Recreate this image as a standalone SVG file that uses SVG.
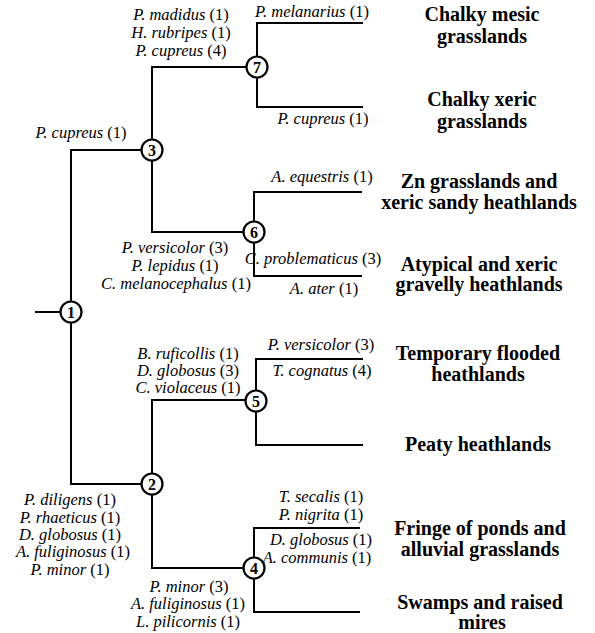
<svg xmlns="http://www.w3.org/2000/svg" width="595" height="633" viewBox="0 0 595 633">
<style>
.edge{fill:none;stroke:#000;stroke-width:2}
.node circle{fill:#fff;stroke:#000;stroke-width:2.2}
.num{font-family:"Liberation Serif",serif;font-weight:bold;font-size:16px;text-anchor:middle}
.sp{font-family:"Liberation Serif",serif;font-style:italic;font-size:16.5px;text-anchor:middle}
.sp tspan.n{font-style:normal}
.hab{font-family:"Liberation Serif",serif;font-weight:bold;font-size:20px;text-anchor:middle}
</style>
<rect width="595" height="633" fill="#fff"/>
<g id="connectors">
<path class="edge" d="M35 312H61"/>
<path class="edge" d="M152 150H71V484H152"/>
<path class="edge" d="M257 67H152V232H254"/>
<path class="edge" d="M256 400H152V568H254"/>
<path class="edge" d="M363 23H257V107H363"/>
<path class="edge" d="M362 192H254V276H362"/>
<path class="edge" d="M363 359H256V445H363"/>
<path class="edge" d="M360 528H254V612H360"/>
</g>
<g id="edge-labels">
<text class="sp" x="81" y="138">P. cupreus <tspan class="n">(1)</tspan></text>
<text class="sp" x="181" y="20">P. madidus <tspan class="n">(1)</tspan></text>
<text class="sp" x="181" y="38">H. rubripes <tspan class="n">(1)</tspan></text>
<text class="sp" x="181" y="56">P. cupreus <tspan class="n">(4)</tspan></text>
<text class="sp" x="312" y="17">P. melanarius <tspan class="n">(1)</tspan></text>
<text class="sp" x="323" y="124">P. cupreus <tspan class="n">(1)</tspan></text>
<text class="sp" x="322" y="182">A. equestris <tspan class="n">(1)</tspan></text>
<text class="sp" x="313" y="264">C. problematicus <tspan class="n">(3)</tspan></text>
<text class="sp" x="324" y="294">A. ater <tspan class="n">(1)</tspan></text>
<text class="sp" x="175" y="253">P. versicolor <tspan class="n">(3)</tspan></text>
<text class="sp" x="175" y="271">P. lepidus <tspan class="n">(1)</tspan></text>
<text class="sp" x="176" y="289">C. melanocephalus <tspan class="n">(1)</tspan></text>
<text class="sp" x="188" y="359">B. ruficollis <tspan class="n">(1)</tspan></text>
<text class="sp" x="188" y="376">D. globosus <tspan class="n">(3)</tspan></text>
<text class="sp" x="188" y="393">C. violaceus <tspan class="n">(1)</tspan></text>
<text class="sp" x="321" y="350">P. versicolor <tspan class="n">(3)</tspan></text>
<text class="sp" x="322" y="376">T. cognatus <tspan class="n">(4)</tspan></text>
<text class="sp" x="70" y="505">P. diligens <tspan class="n">(1)</tspan></text>
<text class="sp" x="70" y="523">P. rhaeticus <tspan class="n">(1)</tspan></text>
<text class="sp" x="70" y="540">D. globosus <tspan class="n">(1)</tspan></text>
<text class="sp" x="73" y="557">A. fuliginosus <tspan class="n">(1)</tspan></text>
<text class="sp" x="70" y="575">P. minor <tspan class="n">(1)</tspan></text>
<text class="sp" x="189" y="592">P. minor <tspan class="n">(3)</tspan></text>
<text class="sp" x="188" y="609">A. fuliginosus <tspan class="n">(1)</tspan></text>
<text class="sp" x="188" y="627">L. pilicornis <tspan class="n">(1)</tspan></text>
<text class="sp" x="321" y="502">T. secalis <tspan class="n">(1)</tspan></text>
<text class="sp" x="321" y="520">P. nigrita <tspan class="n">(1)</tspan></text>
<text class="sp" x="321" y="545">D. globosus <tspan class="n">(1)</tspan></text>
<text class="sp" x="317" y="563">A. communis <tspan class="n">(1)</tspan></text>
</g>
<g id="node1" class="node"><circle cx="71" cy="312" r="10.5"/><text class="num" x="71" y="317.5">1</text></g>
<g id="node2" class="node"><circle cx="152" cy="484" r="10.5"/><text class="num" x="152" y="489.5">2</text></g>
<g id="node3" class="node"><circle cx="152" cy="150" r="10.5"/><text class="num" x="152" y="155.5">3</text></g>
<g id="node4" class="node"><circle cx="254" cy="568" r="10.5"/><text class="num" x="254" y="573.5">4</text></g>
<g id="node5" class="node"><circle cx="256" cy="401" r="10.5"/><text class="num" x="256" y="406.5">5</text></g>
<g id="node6" class="node"><circle cx="254" cy="232" r="10.5"/><text class="num" x="254" y="237.5">6</text></g>
<g id="node7" class="node"><circle cx="257" cy="67" r="10.5"/><text class="num" x="257" y="72.5">7</text></g>
<g id="hab-chalky-mesic"><text class="hab" x="482" y="21">Chalky mesic</text><text class="hab" x="482" y="43">grasslands</text></g>
<g id="hab-chalky-xeric"><text class="hab" x="482" y="106">Chalky xeric</text><text class="hab" x="482" y="128">grasslands</text></g>
<g id="hab-zn"><text class="hab" x="479" y="188">Zn grasslands and</text><text class="hab" x="479" y="209">xeric sandy heathlands</text></g>
<g id="hab-atypical"><text class="hab" x="479" y="271">Atypical and xeric</text><text class="hab" x="479" y="291">gravelly heathlands</text></g>
<g id="hab-temporary"><text class="hab" x="478" y="360">Temporary flooded</text><text class="hab" x="478" y="381">heathlands</text></g>
<g id="hab-peaty"><text class="hab" x="478" y="451">Peaty heathlands</text></g>
<g id="hab-fringe"><text class="hab" x="480" y="535">Fringe of ponds and</text><text class="hab" x="480" y="556">alluvial grasslands</text></g>
<g id="hab-swamps"><text class="hab" x="480" y="609">Swamps and raised</text><text class="hab" x="482" y="629">mires</text></g>
</svg>
